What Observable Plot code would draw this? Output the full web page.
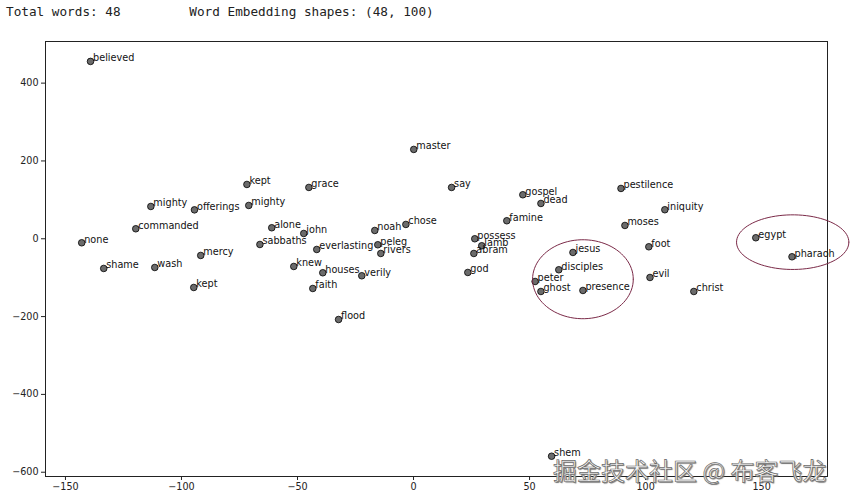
<!DOCTYPE html>
<html>
<head>
<meta charset="utf-8">
<script src="https://cdn.jsdelivr.net/npm/d3@7"></script>
<script src="https://cdn.jsdelivr.net/npm/@observablehq/plot@0.6"></script>
<style>
  html, body { margin: 0; padding: 0; background: #fff; }
  #wrap { position: relative; width: 855px; height: 500px; overflow: hidden; }
  #header { height: 26px; font-family: "DejaVu Sans Mono", monospace; font-size: 12.7px; color: #222;
            white-space: pre; padding-left: 6px; line-height: 24px; box-sizing: border-box; }
  #wm { position: absolute; left: 553px; top: 452px; font-family: "Noto Sans CJK SC", sans-serif; font-size: 24px;
        color: #f6f6f6; -webkit-text-stroke: 0.7px #6a6a6a; text-shadow: 1px 1px 1px #777; white-space: pre; letter-spacing: 0px; }
</style>
</head>
<body>
<div id="wrap">
  <div id="header">Total words: 48         Word Embedding shapes: (48, 100)</div>
  <div id="chart"></div>
  <div id="wm">掘金技术社区 @ 布客飞龙</div>
</div>
<script>
const words = ["believed","kept","mighty","offerings","mighty","commanded","none","alone","sabbaths","mercy",
  "shame","wash","kept","master","grace","say","john","noah","chose","everlasting",
  "peleg","rivers","knew","houses","verily","faith","flood","gospel","dead","pestilence",
  "famine","moses","possess","lamb","abram","god","jesus","foot","disciples","peter",
  "ghost","presence","evil","iniquity","egypt","pharaoh","christ","shem"];
const xs = [-139.2,-71.8,-113.2,-94.4,-71.0,-119.7,-143.0,-61.1,-66.2,-91.7,
  -133.5,-111.5,-94.7,0.1,-45.1,16.4,-47.3,-16.7,-3.3,-41.7,
  -15.4,-14.1,-51.6,-39.1,-22.3,-43.4,-32.3,47.1,54.9,89.4,
  40.2,91.1,26.4,29.4,26.0,23.4,68.7,101.4,62.6,52.4,
  54.9,73.0,101.9,108.3,147.5,163.1,120.8,59.5];
const ys = [455.8,139.6,83.0,74.3,85.6,25.7,-10.3,28.3,-14.7,-42.9,
  -76.3,-73.8,-125.2,229.6,131.9,131.9,13.6,21.3,36.8,-27.5,
  -15.4,-37.8,-71.2,-87.4,-95.1,-127.8,-207.5,113.1,90.7,129.3,
  46.3,34.2,0.0,-18.0,-37.8,-86.6,-35.2,-20.6,-79.7,-109.8,
  -135.5,-132.9,-99.5,74.6,2.6,-46.3,-135.5,-558.9];

// annotation ellipses (centre and radii in data units)
const ellipseCx = [73.0, 163.4];
const ellipseCy = [-104.0, -8.7];
const ellipseRx = [21.7, 24.2];
const ellipseRy = [101.5, 70.2];

const points = words.map((w, i) => ({word: w, x: xs[i], y: ys[i]}));
const ellipsePts = [];
ellipseCx.forEach((cx, k) => {
  for (let a = 0; a <= 360; a += 4) {
    const t = a * Math.PI / 180;
    ellipsePts.push({k, x: cx + ellipseRx[k] * Math.cos(t), y: ellipseCy[k] + ellipseRy[k] * Math.sin(t)});
  }
});

const plot = Plot.plot({
  width: 855,
  height: 474,
  marginLeft: 45,
  marginRight: 28,
  marginTop: 15,
  marginBottom: 24,
  style: {fontFamily: "DejaVu Sans", fontSize: "9.6px", color: "#222", background: "#fff"},
  x: {domain: [-158.6, 178.4], ticks: 6, tickSize: 4, tickPadding: 3, label: null},
  y: {domain: [-611, 507], ticks: 5, tickSize: 4, tickPadding: 3, label: null},
  marks: [
    Plot.frame({stroke: "#222", strokeWidth: 1}),
    Plot.dot(points, {x: "x", y: "y", r: 3.3, fill: "#6b6b6b", stroke: "#000", strokeWidth: 0.8}),
    Plot.text(points, {x: "x", y: "y", text: "word", textAnchor: "start", dx: 2.5, dy: -3.3,
                       fontSize: 9.7, fill: "#111"}),
    Plot.line(ellipsePts, {x: "x", y: "y", z: "k", stroke: "#7b2a48", strokeWidth: 1, curve: "linear"})
  ]
});
document.getElementById("chart").appendChild(plot);
</script>
</body>
</html>
